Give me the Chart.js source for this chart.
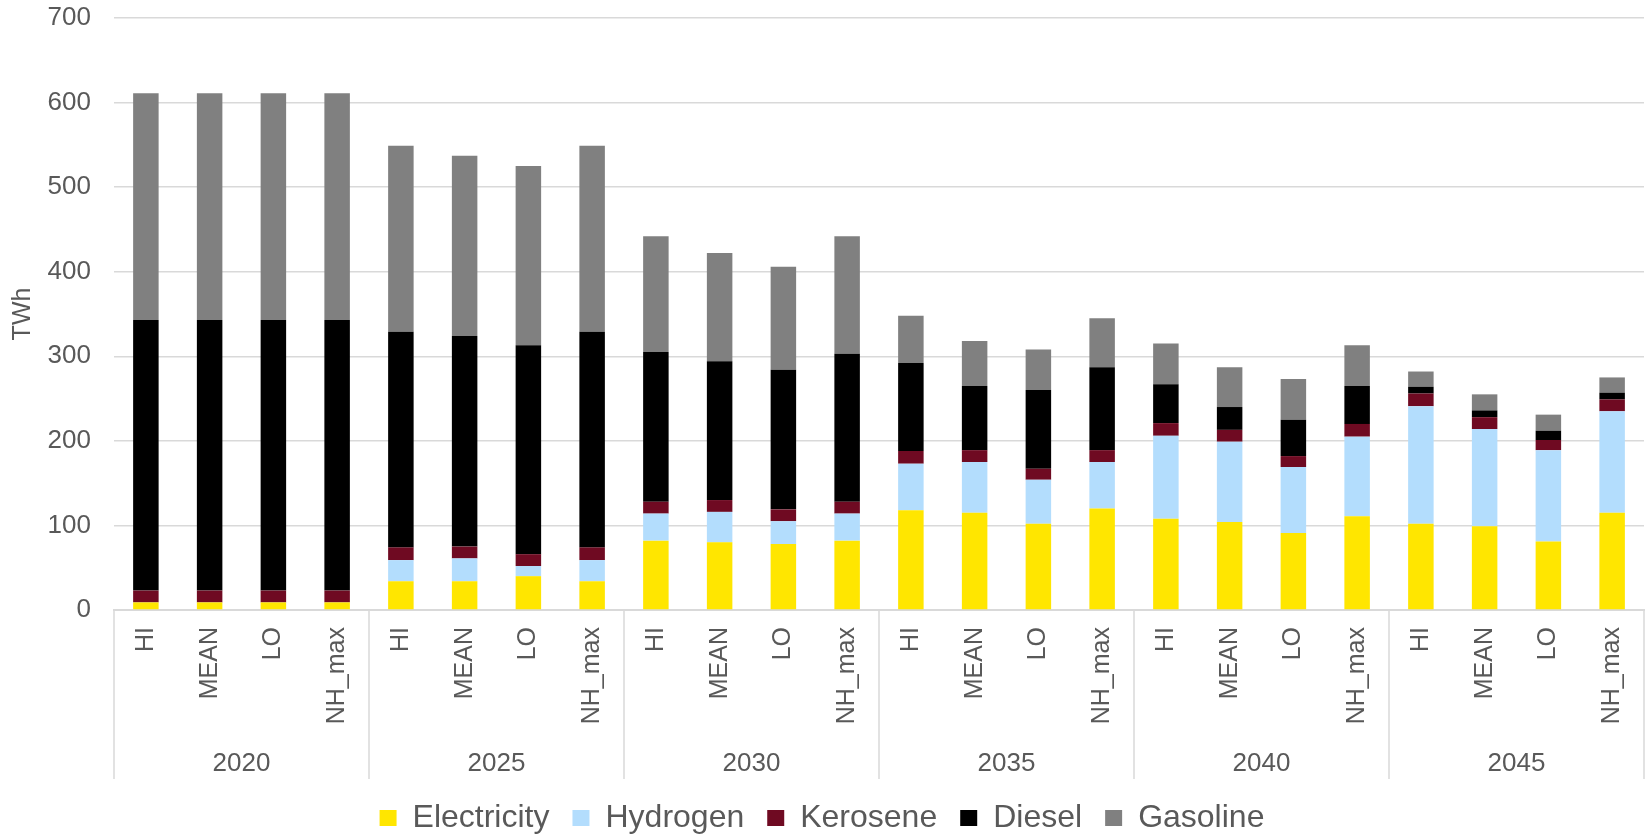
<!DOCTYPE html>
<html>
<head>
<meta charset="utf-8">
<title>Transport energy demand by scenario</title>
<script src="https://cdn.jsdelivr.net/npm/chart.js@4.4.1/dist/chart.umd.min.js"></script>
<style>
  html, body { margin: 0; padding: 0; background: #fff; }
  #wrap { width: 1647px; height: 837px; position: relative; }
</style>
</head>
<body>
<div id="wrap"><canvas id="demandChart"></canvas></div>
<script>
// scenario years and the four cases shown in each year
const years = ['2020', '2025', '2030', '2035', '2040', '2045'];
const cases = ['HI', 'MEAN', 'LO', 'NH_max'];

// TWh per carrier, ordered year by year, case by case
const electricity = [9, 9, 9, 9, 34, 34, 40, 34, 82, 80, 78, 82, 118, 115, 102, 120, 108, 104, 91, 111, 102, 99, 81, 115];
const hydrogen = [0, 0, 0, 0, 25, 27, 12, 25, 32, 36, 27, 32, 55, 60, 52, 55, 98, 95, 78, 94, 139, 115, 108, 120];
const kerosene = [14, 14, 14, 14, 15, 14, 14, 15, 14, 14, 14, 14, 15, 14, 13, 14, 15, 14, 13, 15, 15, 14, 12, 14];
const diesel = [320, 320, 320, 320, 255, 249, 247, 255, 177, 164, 165, 175, 104, 76, 93, 98, 46, 27, 43, 45, 8, 8, 11, 8];
const gasoline = [268, 268, 268, 268, 220, 213, 212, 220, 137, 128, 122, 139, 56, 53, 48, 58, 48, 47, 48, 48, 18, 19, 19, 18];

const yTicks = [0, 100, 200, 300, 400, 500, 600, 700];

const labels = [];
years.forEach(() => cases.forEach(c => labels.push(c)));

const FONT = "'Liberation Sans', Arial, sans-serif";
const TEXT = '#595959';
const LINE = '#d9d9d9';

// fixed axis sizes, and no extra room asked for by the edge labels
const fixSize = (w, h) => axis => {
  if (w) axis.width = w;
  if (h) axis.height = h;
  axis.paddingTop = 0;
  axis.paddingBottom = 0;
  axis.paddingLeft = 0;
  axis.paddingRight = 0;
};

// vertical separators between the year groups, below the axis line
const groupLines = {
  id: 'groupLines',
  afterDraw(chart) {
    const x = chart.scales.x;
    const x2 = chart.scales.x2;
    const area = chart.chartArea;
    const ctx = chart.ctx;
    const n = cases.length;
    ctx.save();
    ctx.strokeStyle = LINE;
    ctx.lineWidth = 1.5;
    for (let i = 0; i <= labels.length; i += n) {
      let px;
      if (i === 0) px = area.left;
      else if (i === labels.length) px = area.right;
      else px = (x.getPixelForValue(i - 1) + x.getPixelForValue(i)) / 2;
      ctx.beginPath();
      ctx.moveTo(px, area.bottom);
      ctx.lineTo(px, x2.bottom);
      ctx.stroke();
    }
    ctx.restore();
  }
};

const ds = (label, data, color) => ({
  label: label,
  data: data,
  backgroundColor: color,
  borderWidth: 0,
  barPercentage: 0.4,
  categoryPercentage: 1.0,
  xAxisID: 'x'
});

new Chart(document.getElementById('demandChart'), {
  type: 'bar',
  data: {
    labels: labels,
    datasets: [
      ds('Electricity', electricity, '#ffe600'),
      ds('Hydrogen', hydrogen, '#b3ddfd'),
      ds('Kerosene', kerosene, '#6f0a22'),
      ds('Diesel', diesel, '#000000'),
      ds('Gasoline', gasoline, '#808080')
    ]
  },
  options: {
    responsive: true,
    maintainAspectRatio: false,
    animation: false,
    layout: { autoPadding: false, padding: { left: 0, right: 3, top: 18, bottom: -7 } },
    plugins: {
      tooltip: { enabled: false },
      legend: {
        position: 'bottom',
        labels: {
          font: { family: FONT, size: 32 },
          color: TEXT,
          boxWidth: 17,
          boxHeight: 16,
          padding: 23
        }
      }
    },
    scales: {
      x: {
        stacked: true,
        weight: 0,
        afterFit: fixSize(0, 120),
        grid: { display: false, drawTicks: false },
        border: { display: true, color: LINE, width: 2 },
        ticks: {
          autoSkip: false,
          maxRotation: 90,
          minRotation: 90,
          padding: 17,
          color: TEXT,
          font: { family: FONT, size: 25 }
        }
      },
      x2: {
        type: 'category',
        labels: years,
        position: 'bottom',
        weight: 1,
        offset: true,
        afterFit: fixSize(0, 49),
        grid: { display: false, drawTicks: false },
        border: { display: false },
        ticks: {
          padding: 18,
          color: TEXT,
          font: { family: FONT, size: 26 }
        }
      },
      y: {
        stacked: true,
        min: yTicks[0],
        max: yTicks[yTicks.length - 1],
        afterBuildTicks: axis => { axis.ticks = yTicks.map(v => ({ value: v })); },
        afterFit: fixSize(114, 0),
        grid: { color: LINE, lineWidth: 1.5, drawTicks: false },
        border: { display: false },
        ticks: {
          padding: 23,
          color: TEXT,
          font: { family: FONT, size: 26 }
        },
        title: {
          display: true,
          text: 'TWh',
          color: TEXT,
          font: { family: FONT, size: 25 },
          padding: { top: 8, bottom: 0 }
        }
      }
    }
  },
  plugins: [groupLines]
});
</script>
</body>
</html>
